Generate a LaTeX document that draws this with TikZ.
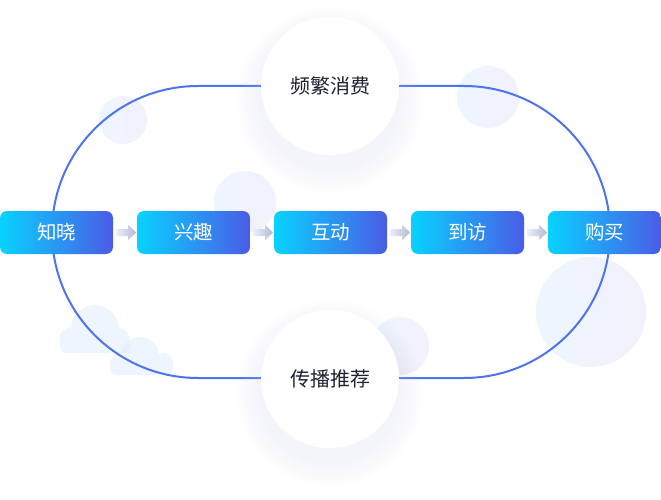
\documentclass[tikz,border=0pt]{standalone}
\usepackage{fontspec}
\newfontfamily\cjk{Noto Sans CJK SC}
\usetikzlibrary{calc}
\definecolor{loopblue}{HTML}{4D74EA}
\definecolor{boxA}{HTML}{08D2FF}
\definecolor{boxB}{HTML}{4A5CE6}
\definecolor{decoA}{HTML}{EDF6FF}
\definecolor{decoB}{HTML}{F2F1FC}
\definecolor{cloudc}{HTML}{DCE9FF}
\definecolor{shadowc}{HTML}{CDD0EC}
\definecolor{textdark}{HTML}{1F2230}
\definecolor{arrA}{HTML}{ECEEF8}
\definecolor{arrB}{HTML}{B3B8D8}
\tikzset{
  stagebox/.style={rounded corners=7pt, minimum width=113pt, minimum height=43pt,
    inner sep=0pt, left color=boxA, right color=boxB, text=white,
    font=\cjk\fontsize{19.5}{19.5}\selectfont},
  hub/.style={circle, fill=white, minimum size=138pt, inner sep=0pt, text=textdark,
    font=\cjk\fontsize{20}{20}\selectfont},
  deco/.style={left color=decoA, right color=decoB},
  loopline/.style={draw=loopblue, line width=2pt},
  flowarrow/.style={left color=arrA, right color=arrB}
}
\begin{document}
\begin{tikzpicture}[x=1pt,y=-1pt]
\useasboundingbox (0,0) rectangle (661,500);
% decorative circles
\shade[deco] (123,120) circle (24);
\shade[deco] (245,202) circle (31);
\shade[deco] (488,97) circle (31);
\shade[deco] (591,312) circle (55);
\shade[deco] (400,346) circle (29);
% clouds
\begin{scope}[transparency group, opacity=0.45]
  \fill[cloudc] (95,329) circle (24);
  \fill[cloudc] (72,340) circle (13);
  \fill[cloudc] (118,340) circle (12);
  \fill[cloudc, rounded corners=6pt] (60,334) rectangle (130,353);
\end{scope}
\begin{scope}[transparency group, opacity=0.45]
  \fill[cloudc] (140,356) circle (19);
  \fill[cloudc] (121,364) circle (11);
  \fill[cloudc] (163,363) circle (10);
  \fill[cloudc, rounded corners=6pt] (110,360) rectangle (173,375);
\end{scope}
% loop
\draw[loopline] (198,86) -- (464,86) arc[start angle=-90, end angle=90, radius=146]
  -- (198,378) arc[start angle=90, end angle=270, radius=146] -- cycle;
% hub shadows
\foreach \r in {70,72,...,94} {
  \fill[shadowc, opacity=0.018] (330,100) circle (\r);
  \fill[shadowc, opacity=0.018] (330,393) circle (\r);
}
% hubs
\node[hub] (top) at (330,86) {频繁消费};
\node[hub] (bot) at (330,379) {传播推荐};
% stages
\node[stagebox] (b1) at (56.5,232.5) {知晓};
\node[stagebox] (b2) at (193.5,232.5) {兴趣};
\node[stagebox] (b3) at (330.5,232.5) {互动};
\node[stagebox] (b4) at (467.5,232.5) {到访};
\node[stagebox] (b5) at (604.5,232.5) {购买};
% arrows
\foreach \a/\b in {b1/b2,b2/b3,b3/b4,b4/b5} {
  \shade[flowarrow] ($(\a.east)+(3,-3.5)$) -- ++(12,0) -- ++(0,-4) -- ++(8,7.5)
    -- ++(-8,7.5) -- ++(0,-4) -- ++(-12,0) -- cycle;
}
\end{tikzpicture}
\end{document}
